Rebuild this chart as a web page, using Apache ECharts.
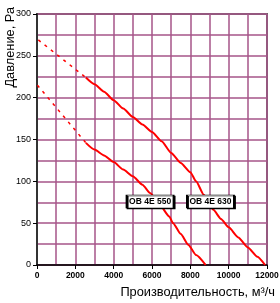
<!DOCTYPE html>
<html>
<head>
<meta charset="utf-8">
<script src="https://cdn.jsdelivr.net/npm/echarts@6/dist/echarts.min.js"></script>
<style>html,body{margin:0;padding:0;background:#fff;}#c{width:280px;height:303px;}</style>
</head>
<body>
<div id="c"></div>
<script>
// Data
const xTickValues = [0, 2000, 4000, 6000, 8000, 10000, 12000];
const yTickValues = [0, 50, 100, 150, 200, 250, 300];
const curve630Dashed = [[70, 269], [2550, 224]];
const curve630Solid = [[2550, 224], [3000, 216], [3500, 207], [4000, 197], [4500, 187], [5000, 177], [5500, 168], [6000, 159], [6500, 148], [7000, 134], [7500, 122], [8000, 111], [8300, 100], [8700, 84], [9200, 66], [9600, 55], [10000, 45], [10500, 33], [11000, 21], [11500, 10], [11900, 0]];
const curve550Dashed = [[20, 215], [2550, 146]];
const curve550Solid = [[2550, 146], [3000, 138], [3500, 131], [4000, 123], [4500, 114], [5000, 106], [5500, 96], [5900, 86], [6400, 72], [6900, 58], [7100, 50], [7500, 37], [7900, 24], [8300, 12], [8800, 0]];
const labelNames = ['OB 4E 550', 'OB 4E 630'];
const labelPositions = [[5900, 76], [9050, 76]];
const xAxisName = 'Производительность, м³/ч';
const yAxisName = 'Давление, Ра';

const gridColor = '#a65589';
const chart = echarts.init(document.getElementById('c'), null, {renderer: 'canvas'});
chart.setOption({
  animation: false,
  backgroundColor: '#fff',
  grid: {left: 37, top: 14, right: 13, bottom: 38, show: true, borderColor: '#666', borderWidth: 2, backgroundColor: 'transparent', containLabel: false, outerBoundsMode: 'none'},
  graphic: [{
    type: 'text', x: 10, y: 7, rotation: Math.PI / 2,
    style: {text: yAxisName, align: 'right', verticalAlign: 'middle', fontSize: 12.8, fill: '#000', fontFamily: 'Liberation Sans'}
  }],
  xAxis: {
    type: 'value', min: 0, max: 12000, interval: 2000,
    name: xAxisName, nameLocation: 'end', nameGap: 8,
    nameTextStyle: {align: 'right', verticalAlign: 'top', fontSize: 12.8, color: '#000', fontFamily: 'Liberation Sans', padding: [21, 0, 0, 0]},
    axisLine: {show: true, lineStyle: {color: '#000', width: 1.5}},
    axisTick: {show: true, inside: false, length: 4, lineStyle: {color: '#000'}},
    axisLabel: {fontSize: 8.5, fontWeight: 'bold', color: '#000', fontFamily: 'Liberation Sans', margin: 6, formatter: v => xTickValues.includes(v) ? String(v) : ''},
    splitLine: {show: true, lineStyle: {color: gridColor, width: 1.5}},
    minorTick: {show: false, splitNumber: 2},
    minorSplitLine: {show: true, lineStyle: {color: gridColor, width: 1.5}}
  },
  yAxis: {
    type: 'value', min: 0, max: 300, interval: 50,
    axisLine: {show: true, lineStyle: {color: '#333', width: 2}},
    axisTick: {show: true, inside: false, length: 4, lineStyle: {color: '#000'}},
    axisLabel: {fontSize: 9, color: '#000', fontFamily: 'Liberation Sans', margin: 6, formatter: v => yTickValues.includes(v) ? String(v) : ''},
    splitLine: {show: true, lineStyle: {color: gridColor, width: 1.5}},
    minorTick: {show: false, splitNumber: 2},
    minorSplitLine: {show: true, lineStyle: {color: gridColor, width: 1.5}}
  },
  series: [
    {type: 'line', data: curve630Dashed, symbol: 'none', lineStyle: {color: '#ff0000', width: 1.5, type: [3, 5]}, z: 3},
    {type: 'line', data: curve630Solid, symbol: 'none', smooth: 0.2, smoothMonotone: 'x', lineStyle: {color: '#ff0000', width: 2}, z: 3},
    {type: 'line', data: curve550Dashed, symbol: 'none', lineStyle: {color: '#ff0000', width: 1.5, type: [3, 5]}, z: 3},
    {type: 'line', data: curve550Solid, symbol: 'none', smooth: 0.2, smoothMonotone: 'x', lineStyle: {color: '#ff0000', width: 2}, z: 3},
    {
      type: 'scatter', z: 5,
      data: labelPositions.map((p, i) => ({value: p, name: labelNames[i]})),
      symbol: 'rect', symbolSize: [47, 13],
      itemStyle: {color: '#fff', borderColor: '#000', borderWidth: 1, shadowColor: '#000', shadowOffsetX: 1, shadowOffsetY: 1, shadowBlur: 0, opacity: 1},
      label: {show: true, position: 'inside', formatter: p => p.name, fontSize: 8.5, fontWeight: 'bold', color: '#000', fontFamily: 'Liberation Sans'},
      emphasis: {disabled: true}
    }
  ]
});
</script>
</body>
</html>
